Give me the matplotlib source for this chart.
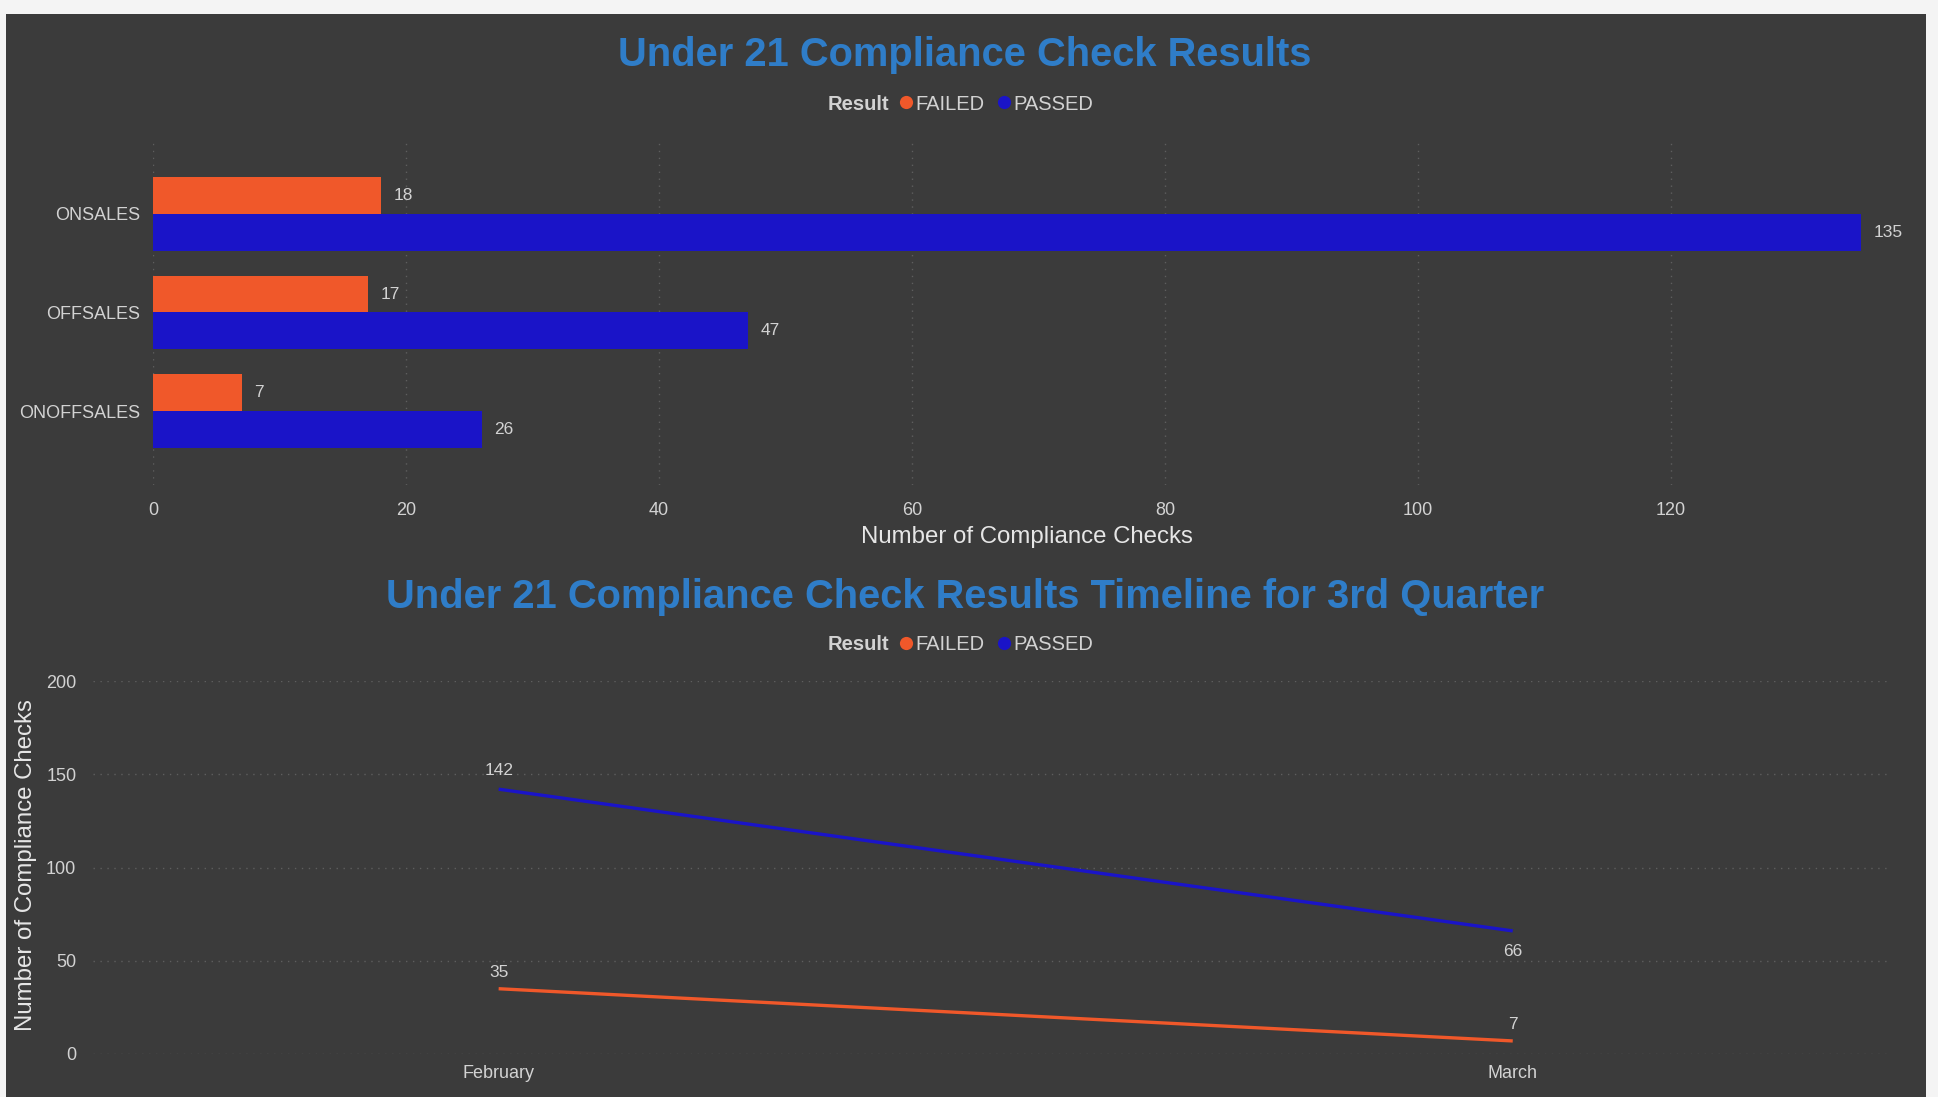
import matplotlib.pyplot as plt
from matplotlib.patches import Rectangle
from matplotlib.lines import Line2D

plt.rcParams['font.family'] = ['Liberation Sans', 'DejaVu Sans']

# data
categories = ['ONSALES', 'OFFSALES', 'ONOFFSALES']
failed = [18, 17, 7]
passed = [135, 47, 26]
months = ['February', 'March']
failed_month = [35, 7]
passed_month = [142, 66]

BG = '#3b3b3b'
ORANGE = '#f0582a'
BLUE = '#1a14c8'
TITLE = '#2f7dc8'
TXT = '#d2d2d2'
GRID = '#5e5e5e'

fig = plt.figure(figsize=(19.38, 10.97), dpi=100)
fig.patch.set_facecolor('#f4f4f4')
fig.patches.append(Rectangle((6 / 1938, 0), 1920 / 1938, 1 - 14 / 1097,
                             transform=fig.transFigure, facecolor=BG,
                             edgecolor='none', zorder=-5))


def add_legend(y):
    fig.text(828 / 1938, y, 'Result', color=TXT, fontsize=14.5, fontweight='bold',
             ha='left', va='center')
    handles = [Line2D([], [], marker='o', color='none', markerfacecolor=ORANGE,
                      markeredgecolor='none', markersize=9.5),
               Line2D([], [], marker='o', color='none', markerfacecolor=BLUE,
                      markeredgecolor='none', markersize=9.5)]
    leg = fig.legend(handles, ['FAILED', 'PASSED'], loc='center left',
                     bbox_to_anchor=(900 / 1938, y), ncol=2, frameon=False,
                     fontsize=14.5, handlelength=0.6, handletextpad=0.15,
                     columnspacing=0.7, borderpad=0, borderaxespad=0)
    for t in leg.get_texts():
        t.set_color(TXT)


# ---- top: bar chart ----
ax1 = fig.add_axes([153 / 1938, 1 - 485 / 1097, 1747 / 1938, 345 / 1097])
ax1.set_facecolor('none')
ypos = list(range(len(categories)))
h = 0.375
ax1.barh([y - h / 2 for y in ypos], failed, height=h, color=ORANGE, zorder=3)
ax1.barh([y + h / 2 for y in ypos], passed, height=h, color=BLUE, zorder=3)
for i in range(len(categories)):
    ax1.text(failed[i] + 1, ypos[i] - h / 2, str(failed[i]), color=TXT,
             fontsize=12.5, va='center', ha='left')
    ax1.text(passed[i] + 1, ypos[i] + h / 2, str(passed[i]), color=TXT,
             fontsize=12.5, va='center', ha='left')
ax1.set_xlim(0, 138.1)
ax1.set_ylim(2.75, -0.75)
ax1.set_yticks(ypos)
ax1.set_yticklabels(categories)
ax1.set_xticks(range(0, 121, 20))
ax1.tick_params(axis='x', colors=TXT, labelsize=13, length=0, pad=12)
ax1.tick_params(axis='y', colors=TXT, labelsize=13, length=0, pad=9)
ax1.grid(axis='x', color=GRID, linestyle=(0, (1, 4)), linewidth=1, zorder=0)
for s in ax1.spines.values():
    s.set_visible(False)
ax1.set_xlabel('Number of Compliance Checks', color='#e6e6e6', fontsize=17.3,
               labelpad=5)

fig.text(965 / 1938, 1 - 55 / 1097, 'Under 21 Compliance Check Results',
         color=TITLE, fontsize=28.7, fontweight='bold', ha='center', va='center')
add_legend(1 - 104 / 1097)

# ---- bottom: line chart ----
ax2 = fig.add_axes([93 / 1938, 1 - 1054 / 1097, 1798 / 1938, 373 / 1097])
ax2.set_facecolor('none')
xs = list(range(len(months)))
ax2.plot(xs, passed_month, color=BLUE, linewidth=2.4, solid_capstyle='butt', zorder=3)
ax2.plot(xs, failed_month, color=ORANGE, linewidth=2.4, solid_capstyle='butt', zorder=3)
ax2.annotate(str(passed_month[0]), (xs[0], passed_month[0]), xytext=(0, 8),
             textcoords='offset points', ha='center', va='bottom', color=TXT, fontsize=12.5)
ax2.annotate(str(passed_month[1]), (xs[1], passed_month[1]), xytext=(0, -9.5),
             textcoords='offset points', ha='center', va='top', color=TXT, fontsize=12.5)
ax2.annotate(str(failed_month[0]), (xs[0], failed_month[0]), xytext=(0, 6.5),
             textcoords='offset points', ha='center', va='bottom', color=TXT, fontsize=12.5)
ax2.annotate(str(failed_month[1]), (xs[1], failed_month[1]), xytext=(0, 6.5),
             textcoords='offset points', ha='center', va='bottom', color=TXT, fontsize=12.5)
ax2.set_xlim(-0.40, 1.373)
ax2.set_ylim(0, 200)
ax2.set_xticks(xs)
ax2.set_xticklabels(months)
ax2.set_yticks(range(0, 201, 50))
ax2.tick_params(axis='x', colors=TXT, labelsize=13, length=0, pad=8)
ax2.tick_params(axis='y', colors=TXT, labelsize=13, length=0, pad=12)
ax2.grid(axis='y', color=GRID, linestyle=(0, (1, 4)), linewidth=1, zorder=0)
for s in ax2.spines.values():
    s.set_visible(False)
ax2.set_ylabel('Number of Compliance Checks', color='#e6e6e6', fontsize=17.3)
ax2.yaxis.set_label_coords((37 - 93) / 1798, 1 - (865 - 681) / 373)

fig.text(965 / 1938, 1 - 597 / 1097,
         'Under 21 Compliance Check Results Timeline for 3rd Quarter',
         color=TITLE, fontsize=28.7, fontweight='bold', ha='center', va='center')
add_legend(1 - 645 / 1097)

fig.savefig('out.png', dpi=100, facecolor=fig.get_facecolor())
